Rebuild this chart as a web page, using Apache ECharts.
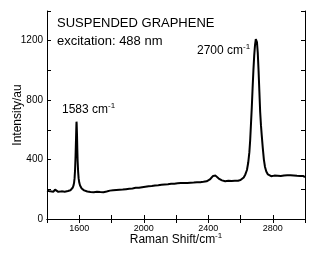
<!DOCTYPE html>
<html><head><meta charset="utf-8">
<script src="https://cdn.jsdelivr.net/npm/echarts@6/dist/echarts.min.js"></script>
<style>html,body{margin:0;padding:0;background:#fff}#c{width:316px;height:255px}</style>
</head><body><div id="c"></div>
<script>
// Raman shift (cm^-1) and intensity (au)
const shift = [
1400,1410,1420,1430,1440,1450,1460,1470,1480,1490,1500,1510,1520,1530,1540,1545,
1550,1555,1560,1565,1568,1571,1574,1577,1580,1582,1583,1584,1586,1588,1590,1593,1596,1600,1605,1610,1615,
1620,1630,1640,1650,1660,1670,1680,1690,1700,1710,1720,1730,1740,1750,1760,1770,1780,1790,
1800,1810,1820,1830,1840,1850,1860,1870,1880,1890,1900,1910,1920,1930,1940,1950,1960,1970,1980,1990,
2000,2010,2020,2030,2040,2050,2060,2070,2080,2090,2100,2110,2120,2130,2140,2150,2160,2170,2180,2190,
2200,2210,2220,2230,2240,2250,2260,2270,2280,2290,2300,2310,2320,2330,2340,2350,2360,2370,2380,2390,
2400,2410,2420,2430,2437,2445,2455,2465,2475,2485,2495,2505,2515,2525,2535,2545,2555,2565,2575,2585,2595,
2600,2610,2620,2630,2640,2648,2655,2660,2665,2670,2675,2680,2685,2690,2695,2698,2702,2707,2712,2717,2722,2727,2732,2738,2745,2752,2760,2770,2780,2790,
2800,2810,2820,2830,2840,2850,2860,2870,2880,2890,2900,2910,2920,2930,2940,2950,2960,2970,2980,2990,3000
];
const intensity = [
190,199,186,197,184,198,189,183,196,186,195,184,197,188,199,193,
198,203,212,228,245,275,330,420,540,625,655,640,570,470,390,320,275,245,225,212,205,
201,193,189,185,195,182,192,180,191,183,193,181,190,180,192,185,179,191,
183,193,185,195,186,197,188,198,190,201,194,204,195,206,198,210,200,211,203,214,
206,217,208,220,211,222,213,225,216,227,219,230,221,232,223,234,226,237,228,238,
229,240,231,242,232,243,234,242,235,244,236,245,238,247,239,248,241,250,243,254,
258,266,278,290,297,292,282,272,265,260,256,254,250,257,249,256,248,257,250,258,259,
262,268,280,300,330,380,450,530,640,750,880,1000,1100,1170,1210,1213,1190,1120,1000,860,720,630,560,480,400,350,320,300,292,288,
283,292,281,291,280,290,283,293,284,294,286,295,284,293,283,291,282,290,281,289,282
];
const xLabelValues = [1600, 2000, 2400, 2800];
const yLabelValues = [0, 400, 800, 1200];

const data = shift.map((s, i) => [s, intensity[i]]);
const font = 'Arial, "Liberation Sans", sans-serif';
const sup = (main, s, size) => ({
  text: '{a|' + main + '}{s|' + s + '}',
  rich: {
    a: {fontSize: size, fontFamily: font, fill: '#000', color: '#000', verticalAlign: 'bottom', lineHeight: size + 2},
    s: {fontSize: 8, fontFamily: font, fill: '#000', color: '#000', verticalAlign: 'top', lineHeight: size + 2, padding: [0, 0, 6, 0]}
  }
});

const common = {
  axisLine: {show: true, lineStyle: {color: '#000', width: 1}},
  axisTick: {show: true, inside: true, length: 4, lineStyle: {color: '#000', width: 1}},
  splitLine: {show: false},
  nameMoveOverlap: false
};

const chart = echarts.init(document.getElementById('c'));
chart.setOption({
  animation: false,
  backgroundColor: '#fff',
  grid: {left: 47, right: 11, top: 11, bottom: 36, containLabel: false, outerBoundsMode: 'none'},
  xAxis: [
    Object.assign({
      type: 'value', min: 1400, max: 3000, interval: 200, position: 'bottom',
      name: '{a|Raman Shift/cm}{s|-1}', nameLocation: 'middle', nameGap: 13,
      nameTextStyle: {rich: {
        a: {fontSize: 12, fontFamily: font, color: '#000', verticalAlign: 'bottom', lineHeight: 14},
        s: {fontSize: 8, fontFamily: font, color: '#000', verticalAlign: 'top', lineHeight: 14, padding: [0, 0, 6, 0]}
      }},
      axisLabel: {show: true, fontSize: 9, fontFamily: font, color: '#000', margin: 5,
        formatter: v => xLabelValues.includes(v) ? String(v) : ''}
    }, common),
    Object.assign({type: 'value', min: 1400, max: 3000, interval: 200, position: 'top',
      axisLabel: {show: false}}, common)
  ],
  yAxis: [
    Object.assign({
      type: 'value', min: 0, max: 1400, interval: 200, position: 'left',
      name: 'Intensity/au', nameLocation: 'middle', nameGap: 23,
      nameTextStyle: {fontSize: 12, fontFamily: font, color: '#000'},
      axisLabel: {show: true, fontSize: 10, fontFamily: font, color: '#000', margin: 4,
        formatter: v => yLabelValues.includes(v) ? String(v) : ''}
    }, common),
    Object.assign({type: 'value', min: 0, max: 1400, interval: 200, position: 'right',
      axisLabel: {show: false}}, common)
  ],
  series: [{
    type: 'line', data: data, showSymbol: false, symbol: 'none',
    lineStyle: {color: '#000', width: 2}, smooth: false
  }],
  graphic: [
    {type: 'text', left: 57, top: 17, style: {text: 'SUSPENDED GRAPHENE', font: '13px ' + font, fill: '#000'}},
    {type: 'text', left: 57, top: 35, style: {text: 'excitation: 488 nm', font: '13px ' + font, fill: '#000'}},
    {type: 'text', left: 197, top: 43, style: sup('2700 cm', '-1', 12)},
    {type: 'text', left: 62, top: 102, style: sup('1583 cm', '-1', 12)}
  ]
});
</script></body></html>
